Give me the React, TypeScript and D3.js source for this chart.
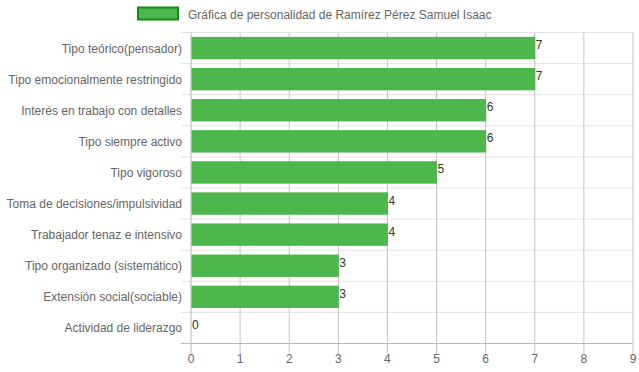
import React from "react";
import * as d3 from "d3";

const categories = [
  "Tipo teórico(pensador)",
  "Tipo emocionalmente restringido",
  "Interés en trabajo con detalles",
  "Tipo siempre activo",
  "Tipo vigoroso",
  "Toma de decisiones/impulsividad",
  "Trabajador tenaz e intensivo",
  "Tipo organizado (sistemático)",
  "Extensión social(sociable)",
  "Actividad de liderazgo",
];
const values = [7, 7, 6, 6, 5, 4, 4, 3, 3, 0];
const xTicks = [0, 1, 2, 3, 4, 5, 6, 7, 8, 9];
const legendLabel = "Gráfica de personalidad de Ramírez Pérez Samuel Isaac";

const W = 639;
const H = 372;
const left = 191;
const right = 633;
const top = 32.5;
const bottom = 343.5;
const font = "'Liberation Sans', Arial, Helvetica, sans-serif";

export default function App() {
  const x = d3.scaleLinear().domain([0, 9]).range([left, right]);
  const y = d3.scaleBand<string>().domain(categories).range([top, bottom]);
  const bw = y.bandwidth();
  const barH = bw * 0.72;
  const fill = "rgb(77,183,77)";

  return (
    <svg
      width={W}
      height={H}
      style={{ position: "absolute", left: 0, top: 0, background: "#fff" }}
      fontFamily={font}
    >
      {/* legend */}
      <rect x={138} y={7.5} width={40} height={12} fill={fill} stroke="rgb(20,140,20)" strokeWidth={2} />
      <text x={188} y={19} fontSize={12} fill="#666">
        {legendLabel}
      </text>

      {/* horizontal grid lines (category boundaries) */}
      {categories.map((c, i) => (
        <line
          key={"h" + i}
          x1={left - 10}
          x2={right}
          y1={y(c)!}
          y2={y(c)!}
          stroke="#e4e4e4"
        />
      ))}

      {/* vertical grid lines */}
      {xTicks.map((t) => (
        <line
          key={"v" + t}
          x1={x(t)}
          x2={x(t)}
          y1={top}
          y2={bottom + 10}
          stroke={t === 0 ? "#b8b8b8" : "#c4c4c4"}
        />
      ))}

      {/* bottom axis line */}
      <line x1={left - 10} x2={right} y1={bottom} y2={bottom} stroke="#bbbbbb" />

      {/* bars */}
      {categories.map((c, i) => (
        <rect
          key={"b" + i}
          x={x(0) + 0.5}
          y={y(c)! + (bw - barH) / 2}
          width={Math.max(0, x(values[i]) - x(0))}
          height={barH}
          fill={fill}
        />
      ))}

      {/* value labels */}
      {categories.map((c, i) => (
        <text
          key={"l" + i}
          x={x(values[i]) + 1}
          y={y(c)! + bw / 2 + 1}
          fontSize={12}
          fill="#333"
        >
          {values[i]}
        </text>
      ))}

      {/* y-axis labels */}
      {categories.map((c) => (
        <text key={"y" + c} x={182} y={y(c)! + bw / 2 + 4.5} fontSize={12} fill="#666" textAnchor="end">
          {c}
        </text>
      ))}

      {/* x-axis labels */}
      {xTicks.map((t) => (
        <text key={"x" + t} x={x(t)} y={363} fontSize={12} fill="#666" textAnchor="middle">
          {t}
        </text>
      ))}
    </svg>
  );
}
